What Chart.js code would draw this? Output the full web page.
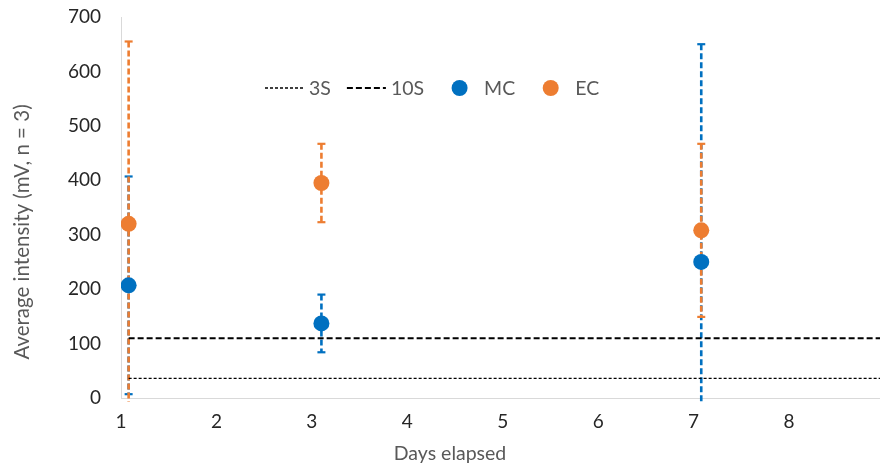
<!DOCTYPE html>
<html>
<head>
<meta charset="utf-8">
<title>Average intensity vs days elapsed</title>
<script src="https://cdn.jsdelivr.net/npm/chart.js@4.4.1/dist/chart.umd.min.js"></script>
<style>
  html, body { margin: 0; padding: 0; background: #fff; overflow: hidden; }
  #wrap { width: 902px; height: 468px; position: relative; }
</style>
</head>
<body>
<div id="wrap"><canvas id="mainChart"></canvas></div>
<script>
// ---------------------------------------------------------
// data
// ---------------------------------------------------------
const days = [1.08, 3.1, 7.08];          // sampling days (slightly offset like the original)
const mcMean = [207, 137, 250];
const mcErr = [200, 53, 400];
const ecMean = [320, 395, 308];
const ecErr = [335, 72, 159];
const limit3S = 36;                       // detection limit lines
const limit10S = 110;
const limitDays = [1.08, 9.5];            // limit lines run to the right edge
const xTicks = [1, 2, 3, 4, 5, 6, 7, 8, 9];
const yTicks = [0, 100, 200, 300, 400, 500, 600, 700];

const FONT = 'Lato, "Open Sans", sans-serif';
const TEXT_GREY = '#595959';
const TICK_COLOR = '#262626';
const AXIS_GREY = '#d9d9d9';

// error bars (dashed, with small caps) drawn under the markers
const errorBarPlugin = {
    id: 'errorBars',
    beforeDatasetsDraw(chart) {
        const { ctx, chartArea, scales: { x, y } } = chart;
        chart.data.datasets.forEach((ds, i) => {
            if (!ds.errors || !chart.isDatasetVisible(i)) return;
            ds.data.forEach((p, j) => {
                const px = x.getPixelForValue(p.x);
                const hi = p.y + ds.errors[j];
                const lo = p.y - ds.errors[j];
                const yTop = Math.max(y.getPixelForValue(hi), chartArea.top);
                const yBot = Math.min(y.getPixelForValue(lo), chartArea.bottom + 4);
                ctx.save();
                ctx.strokeStyle = ds.backgroundColor;
                ctx.lineWidth = 2.6;
                ctx.setLineDash([6, 3]);
                ctx.beginPath();
                ctx.moveTo(px, yTop);
                ctx.lineTo(px, yBot);
                ctx.stroke();
                ctx.setLineDash([]);
                ctx.lineWidth = 2.2;
                [hi, lo].forEach(v => {
                    if (v < y.min || v > y.max) return;
                    const py = y.getPixelForValue(v);
                    ctx.beginPath();
                    ctx.moveTo(px - 4, py);
                    ctx.lineTo(px + 4, py);
                    ctx.stroke();
                });
                ctx.restore();
            });
        });
    }
};

// axis titles placed where the original has them
const axisTitlePlugin = {
    id: 'axisTitles',
    afterDraw(chart) {
        const { ctx } = chart;
        const xt = chart.options.scales.x.title;
        const yt = chart.options.scales.y.title;
        ctx.save();
        ctx.fillStyle = TEXT_GREY;
        ctx.font = '19.5px ' + FONT;
        ctx.textAlign = 'center';
        ctx.textBaseline = 'middle';
        ctx.fillText(xt.text, 450, 454);
        ctx.font = '20.5px ' + FONT;
        ctx.translate(22, 232);
        ctx.rotate(-Math.PI / 2);
        ctx.fillText(yt.text, 0, 0);
        ctx.restore();
    }
};

// legend inside the plot area, Excel style
const insideLegendPlugin = {
    id: 'insideLegend',
    afterDraw(chart) {
        const { ctx } = chart;
        let cx = 265;
        const cy = 88;
        const sample = 39;
        ctx.save();
        ctx.font = '19.5px ' + FONT;
        ctx.textBaseline = 'middle';
        chart.data.datasets.forEach(ds => {
            if (ds.showLine) {
                ctx.strokeStyle = ds.borderColor;
                ctx.lineWidth = ds.borderWidth;
                ctx.setLineDash(ds.borderDash || []);
                ctx.beginPath();
                ctx.moveTo(cx, cy);
                ctx.lineTo(cx + sample, cy);
                ctx.stroke();
                ctx.setLineDash([]);
            } else {
                ctx.fillStyle = ds.backgroundColor;
                ctx.beginPath();
                ctx.arc(cx + sample / 2, cy, 8, 0, Math.PI * 2);
                ctx.fill();
            }
            cx += sample + 5;
            ctx.fillStyle = TEXT_GREY;
            ctx.fillText(ds.label, cx, cy + 1);
            cx += ctx.measureText(ds.label).width + 16;
        });
        ctx.restore();
    }
};

const ctx = document.getElementById('mainChart').getContext('2d');
new Chart(ctx, {
    type: 'scatter',
    data: {
        datasets: [
            {
                label: '3S',
                data: limitDays.map(d => ({ x: d, y: limit3S })),
                showLine: true,
                borderColor: '#000000',
                borderWidth: 1.3,
                borderDash: [3, 2],
                pointRadius: 0,
                pointHoverRadius: 0
            },
            {
                label: '10S',
                data: limitDays.map(d => ({ x: d, y: limit10S })),
                showLine: true,
                borderColor: '#000000',
                borderWidth: 2,
                borderDash: [6, 3],
                pointRadius: 0,
                pointHoverRadius: 0
            },
            {
                label: 'MC',
                data: days.map((d, i) => ({ x: d, y: mcMean[i] })),
                errors: mcErr,
                backgroundColor: '#0070C0',
                borderColor: '#0070C0',
                borderWidth: 0,
                pointRadius: 8,
                pointHoverRadius: 8
            },
            {
                label: 'EC',
                data: days.map((d, i) => ({ x: d, y: ecMean[i] })),
                errors: ecErr,
                backgroundColor: '#ED7D31',
                borderColor: '#ED7D31',
                borderWidth: 0,
                pointRadius: 8,
                pointHoverRadius: 8
            }
        ]
    },
    options: {
        responsive: true,
        maintainAspectRatio: false,
        animation: false,
        events: [],
        layout: { padding: { top: 17, right: 10, left: 0, bottom: 0 } },
        plugins: {
            legend: { display: false },
            tooltip: { enabled: false }
        },
        scales: {
            x: {
                type: 'linear',
                min: 1,
                max: 9,
                afterBuildTicks: s => { s.ticks = xTicks.map(v => ({ value: v })); },
                afterFit: s => { s.height = 70; },
                grid: { display: false, drawTicks: false },
                border: { display: true, color: AXIS_GREY, width: 1 },
                ticks: { color: TICK_COLOR, font: { family: FONT, size: 19 }, padding: 12, maxRotation: 0 },
                title: { display: false, text: 'Days elapsed' }
            },
            y: {
                type: 'linear',
                min: 0,
                max: 700,
                afterBuildTicks: s => { s.ticks = yTicks.map(v => ({ value: v })); },
                // fixed width, and no extra top/bottom room for the tick labels
                afterFit: s => { s.width = 121; s.paddingTop = 0; s.paddingBottom = 0; },
                grid: { display: false, drawTicks: false },
                border: { display: true, color: AXIS_GREY, width: 1 },
                ticks: { color: TICK_COLOR, font: { family: FONT, size: 19 }, padding: 20 },
                title: { display: false, text: 'Average intensity (mV, n = 3)' }
            }
        }
    },
    plugins: [errorBarPlugin, axisTitlePlugin, insideLegendPlugin]
});
</script>
</body>
</html>
